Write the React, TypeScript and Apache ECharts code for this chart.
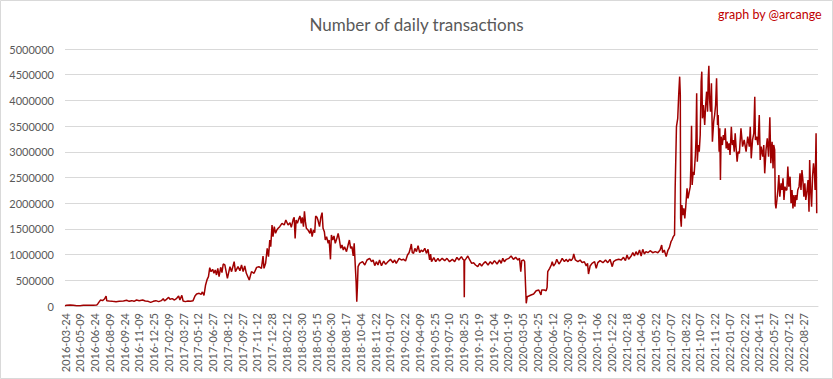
import React, { useEffect, useRef } from "react";
import * as echarts from "echarts";

// x tick labels, one every 46 data points (days in the series)
const tickLabels = [
  "2016-03-24", "2016-05-09", "2016-06-24", "2016-08-09", "2016-09-24", "2016-11-09", "2016-12-25",
  "2017-02-09", "2017-03-27", "2017-05-12", "2017-06-27", "2017-08-12", "2017-09-27", "2017-11-12",
  "2017-12-28", "2018-02-12", "2018-03-30", "2018-05-15", "2018-06-30", "2018-08-17", "2018-10-04",
  "2018-11-22", "2019-01-07", "2019-02-22", "2019-04-09", "2019-05-25", "2019-07-10", "2019-08-25",
  "2019-10-19", "2019-12-04", "2020-01-19", "2020-03-05", "2020-04-25", "2020-06-12", "2020-07-30",
  "2020-09-19", "2020-11-06", "2020-12-22", "2021-02-18", "2021-04-06", "2021-05-22", "2021-07-07",
  "2021-08-22", "2021-10-07", "2021-11-22", "2022-01-07", "2022-02-22", "2022-04-11", "2022-05-27",
  "2022-07-12", "2022-08-27",
];
const TICK_STEP = 46;

// day number within the series (0 = 2016-03-24)
const dayIndex = [
  0, 5, 16, 26, 36, 47, 57, 68, 78, 88, 99, 102, 107, 111, 117, 123, 128, 130, 138, 148,
  159, 169, 182, 192, 200, 208, 215, 223, 231, 242, 250, 259, 267, 275, 283, 292, 300, 306, 310, 316,
  323, 327, 334, 341, 348, 354, 358, 364, 368, 375, 383, 391, 399, 405, 410, 418, 424, 428, 433, 438,
  443, 447, 451, 455, 460, 464, 468, 472, 476, 480, 485, 489, 493,
  498, 506, 514, 519, 527, 531, 539, 545, 550, 555, 560, 565, 574, 581, 589, 597, 604, 612, 617, 620,
  625, 630, 634, 638, 641, 645, 648, 652, 656, 660, 664, 669, 676, 683, 688, 695, 701, 705, 711, 714,
  717, 720, 724, 728, 732, 736, 739, 743, 746, 749, 752, 757, 763, 766, 770, 774, 778, 781, 785, 788,
  793, 797, 801, 804, 808, 811, 815, 820, 823, 827, 830, 834, 838, 842, 847, 851, 855, 859, 863, 867,
  871, 877, 882, 886, 890, 894, 898, 901, 904, 907, 909, 911, 913,
  918, 927, 934, 941, 949, 955, 960, 965, 970, 975, 980, 986, 993, 999, 1006, 1014, 1022, 1027, 1032, 1041,
  1048, 1055, 1061, 1067, 1072, 1076, 1079, 1082, 1086, 1090, 1095, 1100, 1105, 1110, 1115, 1121, 1126, 1131, 1136, 1139,
  1142, 1149, 1155, 1162, 1167, 1175, 1183, 1190, 1198, 1207, 1214, 1221, 1227, 1235, 1240, 1243, 1244, 1245, 1250, 1255,
  1261, 1267, 1273, 1279, 1286, 1292, 1298, 1304, 1310, 1318, 1325, 1331, 1338, 1346,
  1354, 1359, 1364, 1369, 1375, 1383, 1390, 1397, 1404, 1411, 1416, 1420, 1423, 1429, 1432, 1435, 1437, 1440, 1445, 1452,
  1460, 1468, 1476, 1483, 1485, 1493, 1499, 1502, 1504, 1510, 1515, 1518, 1522, 1528, 1532, 1539, 1544, 1549, 1556, 1561,
  1567, 1572, 1577, 1582, 1585, 1590, 1598, 1605, 1611, 1618, 1624, 1628, 1631, 1636, 1642, 1650, 1655, 1660, 1667, 1676,
  1684, 1691, 1698, 1705, 1709, 1717, 1725, 1733, 1740, 1746, 1751, 1756, 1764, 1769, 1774, 1779, 1784, 1790, 1795, 1800,
  1805, 1810, 1816, 1823, 1831, 1839, 1847, 1854, 1859, 1862, 1867, 1873, 1878,
  1883, 1888, 1891, 1895, 1899, 1901, 1903, 1905, 1909, 1912, 1915, 1917, 1918, 1920, 1922, 1925, 1928, 1931, 1934, 1938,
  1941, 1945, 1948, 1950, 1952, 1954, 1957, 1960, 1964, 1966, 1968, 1970, 1973, 1976, 1979, 1982, 1984, 1986, 1989, 1993,
  1996, 1999, 2002, 2004, 2006, 2008, 2011, 2014, 2017, 2021, 2024, 2027, 2030, 2033, 2035, 2038, 2040, 2042, 2044, 2048,
  2051, 2054, 2057, 2060, 2063, 2066, 2069, 2072, 2076, 2079, 2082, 2085, 2088, 2091, 2094, 2097,
  2101, 2106, 2111, 2116, 2122, 2127, 2132, 2135, 2138, 2142, 2146, 2149, 2151, 2155, 2159, 2163, 2166, 2169, 2174, 2177,
  2180, 2184, 2188, 2192, 2196, 2199, 2203, 2206, 2208, 2211, 2213, 2215, 2218, 2221, 2224, 2227, 2231, 2234, 2237, 2240,
  2243, 2246, 2249, 2252, 2255, 2259, 2262, 2265, 2268, 2271, 2274, 2277, 2280, 2283, 2287, 2290, 2293, 2296, 2299, 2302,
  2305, 2308, 2312, 2315, 2318, 2320, 2323, 2326, 2329, 2332, 2335, 2337, 2340, 2342,
];

// daily transactions, in thousands
const txThousands = [
  7, 13, 20, 13, 3, 7, 13, 13, 16, 16, 20, 40, 85, 117, 104, 136, 195, 104, 98, 91,
  85, 91, 98, 111, 91, 104, 91, 117, 104, 117, 98, 91, 71, 91, 104, 85, 104, 143, 98, 130,
  169, 130, 143, 117, 150, 195, 117, 208, 98, 85, 98, 91, 104, 195, 234, 247, 227, 273, 208, 409,
  519, 571, 746, 668, 714, 636, 701, 604, 733, 571, 753, 649, 817,
  798, 538, 765, 668, 862, 668, 765, 687, 798, 668, 778, 636, 506, 668, 636, 752, 765, 733, 973, 733,
  830, 1122, 960, 1284, 1154, 1576, 1349, 1543, 1414, 1479, 1511, 1543, 1608, 1576, 1673, 1576, 1621, 1530, 1686, 1725,
  1316, 1673, 1608, 1686, 1751, 1608, 1725, 1543, 1842, 1641, 1511, 1479, 1414, 1511, 1349, 1479, 1427, 1751, 1725, 1673,
  1543, 1725, 1816, 1511, 1446, 1284, 1349, 1219, 1284, 908, 1381, 1284, 1362, 1219, 1316, 1414, 1284, 1122, 1187, 1089,
  1154, 1057, 1187, 1284, 1122, 1154, 973, 1219, 830, 473, 84, 376, 765,
  830, 862, 798, 895, 927, 862, 895, 785, 862, 798, 895, 785, 875, 810, 862, 908, 843, 895, 830, 927,
  895, 908, 875, 992, 1037, 1122, 1206, 1037, 1024, 1122, 1057, 1174, 1037, 1089, 1057, 1122, 1024, 1102, 895, 1011,
  862, 940, 862, 927, 875, 927, 882, 927, 862, 908, 862, 947, 895, 960, 908, 895, 168, 882, 927, 973,
  895, 830, 843, 798, 765, 830, 778, 830, 862, 798, 862, 817, 882, 817,
  895, 830, 927, 862, 908, 927, 973, 908, 947, 895, 927, 668, 882, 895, 862, 376, 52, 181, 194, 214,
  233, 298, 311, 214, 311, 311, 298, 363, 668, 733, 798, 862, 778, 830, 908, 817, 862, 927, 862, 908,
  862, 914, 882, 927, 1011, 895, 862, 895, 843, 862, 778, 830, 622, 778, 830, 862, 733, 843, 882, 843,
  895, 843, 908, 765, 862, 895, 908, 895, 947, 882, 992, 908, 973, 1037, 973, 1057, 992, 1089, 973, 1102,
  1011, 1057, 1037, 1076, 1037, 1057, 1037, 1089, 1187, 1037, 1089, 960, 1076,
  1135, 1251, 1284, 1349, 1381, 2289, 2873, 3489, 3651, 4105, 4462, 4105, 1705, 1543, 1965, 1770, 1900, 1705, 1932, 2289,
  2094, 2224, 2321, 2743, 3508, 2354, 2613, 2548, 2938, 3262, 4137, 2808, 3132, 3002, 3327, 4364, 4559, 3651, 3910, 3521,
  3910, 4170, 3781, 4429, 4675, 4040, 3781, 4332, 3197, 3586, 3716, 3910, 4429, 3521, 3716, 3002, 3456, 2451, 3294, 3132,
  3327, 3229, 3456, 3067, 3197, 3035, 3165, 2938, 3489, 3132, 3229, 3002, 3359, 3067, 2808, 3002,
  2970, 3457, 3100, 3230, 3003, 3295, 3100, 3489, 2873, 3230, 3359, 4073, 3230, 3295, 3132, 3716, 2841, 3100, 2905, 3132,
  2581, 3035, 3262, 2905, 3671, 2776, 3197, 2678, 3132, 3035, 1998, 1900, 2062, 2257, 2549, 2127, 2386, 2257, 2484, 2062,
  2322, 2257, 2257, 2711, 2322, 2516, 1998, 2257, 1900, 2160, 1933, 2160, 2062, 2257, 2322, 2581, 2257, 2646, 2451, 2127,
  2386, 2062, 2257, 2451, 1836, 2841, 2257, 1933, 2516, 2776, 2581, 2257, 3359, 1803,
];

const yTicks = [0, 500000, 1000000, 1500000, 2000000, 2500000, 3000000, 3500000, 4000000, 4500000, 5000000];

export default function App() {
  const ref = useRef<HTMLDivElement>(null);
  useEffect(() => {
    if (!ref.current) return;
    const chart = echarts.init(ref.current, null, { renderer: "svg" });
    const data = dayIndex.map((d, i) => [d, txThousands[i] * 1000]);
    const gray = "#595959";
    const font = "Lato, 'Liberation Sans', sans-serif";
    chart.setOption({
      animation: false,
      backgroundColor: "#ffffff",
      title: {
        text: "Number of daily transactions",
        left: "center",
        top: 11,
        textStyle: { fontSize: 17, fontWeight: "normal", color: gray, fontFamily: font },
      },
      graphic: [
        {
          type: "rect",
          shape: { x: 0.5, y: 0.5, width: 832, height: 378 },
          style: { fill: "none", stroke: "#d9d9d9", lineWidth: 1 },
          silent: true,
        },
        {
          type: "text",
          right: 11,
          top: 8,
          style: { text: "graph by @arcange", fill: "#c00000", fontSize: 12.5, fontFamily: font },
        },
      ],
      grid: { left: 65, right: 15, top: 49, bottom: 73, containLabel: false },
      xAxis: {
        type: "value",
        min: 0,
        max: TICK_STEP * tickLabels.length,
        interval: TICK_STEP,
        axisLine: { show: true, lineStyle: { color: "#d9d9d9" } },
        axisTick: { show: false },
        splitLine: { show: false },
        axisLabel: {
          rotate: 90,
          margin: 7,
          color: gray,
          fontSize: 11,
          fontFamily: font,
          showMinLabel: true,
          showMaxLabel: true,
          formatter: (v: number) => {
            if (v % TICK_STEP !== 0) return "";
            return tickLabels[v / TICK_STEP] ?? "";
          },
        },
      },
      yAxis: {
        type: "value",
        min: yTicks[0],
        max: yTicks[yTicks.length - 1],
        interval: yTicks[1] - yTicks[0],
        axisLine: { show: false },
        axisTick: { show: false },
        splitLine: { lineStyle: { color: "#d9d9d9", width: 1 } },
        axisLabel: {
          color: gray,
          fontSize: 11,
          fontFamily: font,
          margin: 11,
          formatter: (v: number) => String(v),
        },
      },
      series: [
        {
          type: "line",
          data,
          showSymbol: false,
          symbol: "none",
          lineStyle: { color: "#a00000", width: 1.5 },
          z: 3,
        },
      ],
    });
    return () => chart.dispose();
  }, []);
  return (
    <div
      ref={ref}
      style={{ position: "fixed", left: 0, top: 0, width: 833, height: 379 }}
    />
  );
}
